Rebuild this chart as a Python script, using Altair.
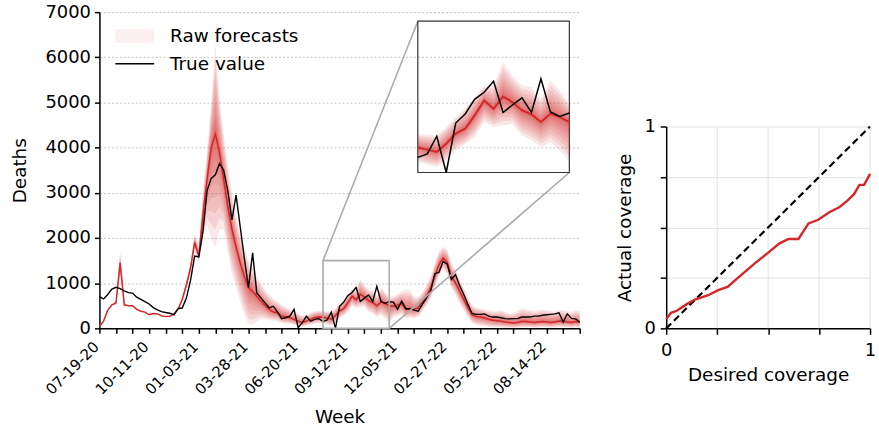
import json

import altair as alt
import pandas as pd

FONT = "DejaVu Sans"
RED = "#d62728"
GRID_GREY = "#b5b5b5"
BOX_GREY = "#ababab"
CAL_GRID = "#e3e3e3"

# ---------------------------------------------------------------- data
week_labels = ["07-19-20", "10-11-20", "01-03-21", "03-28-21", "06-20-21",
               "09-12-21", "12-05-21", "02-27-22", "05-22-22", "08-14-22"]
LABEL_EVERY = 12   # weeks between labelled ticks
TICK_EVERY = 4     # weeks between ticks

true_deaths = [
    700, 650, 750, 870, 910, 880, 830, 790, 780, 690,
    640, 590, 540, 460, 410, 370, 350, 335, 300, 440,
    450, 670, 1060, 1600, 1580, 2140, 3050, 3320, 3400, 3650,
    3500, 3050, 2400, 2950, 2250, 1550, 900, 1670, 785, 675,
    565, 455, 490, 360, 215, 235, 270, 420, 15, 125,
    270, 160, 200, 215, 150, 185, 360, 0, 490, 580,
    725, 795, 905, 595, 670, 740, 595, 930, 600, 555,
    590, 580, 420, 600, 435, 435, 405, 380, 530, 675,
    820, 1210, 1240, 1480, 1420, 1080, 1190, 945, 750, 530,
    330, 310, 310, 320, 270, 250, 250, 235, 215, 210,
    215, 215, 250, 250, 250, 270, 270, 290, 300, 310,
    320, 345, 140, 320, 220, 210, 140,
]
forecast_median = [
    40, 160, 400, 520, 560, 1450, 520, 500, 500, 420,
    380, 360, 300, 330, 320, 280, 260, 270, 320, 420,
    640, 960, 1330, 1900, 1600, 2500, 3300, 4000, 4300, 3900,
    3300, 2700, 2200, 1800, 1450, 1150, 900, 820, 710, 600,
    506, 418, 360, 345, 271, 257, 235, 198, 161, 125,
    161, 198, 235, 250, 247, 227, 204, 286, 385, 434,
    566, 714, 632, 753, 697, 615, 576, 500, 582, 549,
    500, 490, 506, 550, 418, 433, 420, 455, 580, 712,
    895, 1152, 1409, 1555, 1460, 1152, 1005, 821, 638, 455,
    300, 260, 250, 230, 200, 180, 170, 160, 140, 130,
    120, 130, 150, 150, 140, 130, 140, 150, 140, 130,
    140, 160, 150, 140, 130, 150, 130,
]
forecast_low = [
    40, 160, 400, 520, 520, 1250, 480, 500, 500, 420,
    380, 360, 300, 330, 320, 280, 260, 270, 320, 400,
    600, 900, 1250, 1750, 1450, 2000, 2300, 2000, 1800, 2200,
    2200, 1700, 1200, 900, 600, 300, 100, 80, 150, 200,
    200, 180, 170, 160, 120, 110, 100, 80, 60, 40,
    60, 80, 100, 110, 105, 80, 55, 120, 219, 280,
    351, 500, 450, 467, 483, 368, 319, 253, 300, 220,
    105, 250, 280, 300, 230, 240, 230, 250, 380, 500,
    650, 900, 1150, 1300, 1200, 900, 750, 550, 400, 250,
    120, 80, 60, 50, 30, 20, 20, 20, 10, 10,
    10, 10, 20, 20, 20, 10, 20, 20, 20, 10,
    20, 30, 20, 20, 10, 20, 10,
]
forecast_high = [
    40, 160, 400, 520, 620, 1700, 580, 500, 500, 420,
    380, 360, 300, 330, 320, 280, 260, 270, 320, 450,
    700, 1050, 1450, 2100, 1800, 3000, 3900, 5000, 6300, 5100,
    4300, 3600, 3000, 2500, 2100, 1800, 1500, 1350, 1150, 1000,
    850, 750, 650, 600, 520, 470, 420, 380, 330, 280,
    300, 340, 380, 390, 385, 375, 368, 450, 549, 640,
    747, 862, 862, 1092, 960, 862, 845, 730, 911, 813,
    681, 720, 760, 820, 850, 850, 700, 700, 800, 950,
    1150, 1450, 1700, 1800, 1750, 1450, 1300, 1100, 900, 700,
    520, 460, 440, 420, 400, 380, 380, 400, 360, 330,
    340, 380, 440, 420, 400, 380, 400, 420, 400, 380,
    380, 400, 400, 380, 360, 400, 380,
]

desired_coverage = [0.0, 0.024, 0.052, 0.101, 0.141, 0.206, 0.255, 0.301,
                    0.353, 0.442, 0.499, 0.556, 0.600, 0.649, 0.698, 0.746,
                    0.800, 0.849, 0.889, 0.922, 0.948, 0.971, 1.0]
actual_coverage = [0.046, 0.077, 0.087, 0.120, 0.143, 0.164, 0.189, 0.205,
                   0.251, 0.328, 0.374, 0.421, 0.443, 0.443, 0.520, 0.538,
                   0.575, 0.600, 0.633, 0.666, 0.711, 0.711, 0.765]
coverage_ticks = [0, 0.25, 0.5, 0.75, 1]

legend_labels = ["Raw forecasts", "True value"]

# ---------------------------------------------------------------- layout
W, H = 483, 318          # main panel plot area
CAL_W, CAL_H = 205, 203  # calibration panel plot area
Y_MAX = 7000
LAST_WEEK = len(true_deaths) - 1

ZOOM_WEEKS = (54, 70)        # region magnified in the inset
ZOOM_DEATHS = (0, 1500)
INSET_WEEKS = (76.9, 113.5)  # where the inset sits, in main-axis units
INSET_DEATHS = (3450, 6800)

# ---------------------------------------------------------------- tables
series = pd.DataFrame({
    "week": list(range(len(true_deaths))),
    "truth": true_deaths,
    "median": forecast_median,
    "low": forecast_low,
    "high": forecast_high,
})

# nested quantile bands between the median and the outer envelope
levels = [1.0, 0.85, 0.7, 0.56, 0.43, 0.32, 0.22, 0.14, 0.07]
band_frames = []
for i, f in enumerate(levels):
    b = series[["week"]].copy()
    b["band"] = i
    b["lo"] = series["median"] - f * (series["median"] - series["low"])
    b["hi"] = series["median"] + f * (series["high"] - series["median"])
    band_frames.append(b)
bands = pd.concat(band_frames, ignore_index=True)


def in_zoom(df):
    return df[(df["week"] >= ZOOM_WEEKS[0]) & (df["week"] <= ZOOM_WEEKS[1])]


bands_zoom = in_zoom(bands)
series_zoom = in_zoom(series)

zoom_box = pd.DataFrame({"x0": [ZOOM_WEEKS[0]], "x1": [ZOOM_WEEKS[1]],
                         "y0": [ZOOM_DEATHS[0]], "y1": [ZOOM_DEATHS[1]]})
inset_box = pd.DataFrame({"x0": [INSET_WEEKS[0]], "x1": [INSET_WEEKS[1]],
                          "y0": [INSET_DEATHS[0]], "y1": [INSET_DEATHS[1]]})
connectors = pd.DataFrame({
    "x0": [ZOOM_WEEKS[0], ZOOM_WEEKS[1]],
    "y0": [ZOOM_DEATHS[1], ZOOM_DEATHS[0]],
    "x1": [INSET_WEEKS[0], INSET_WEEKS[1]],
    "y1": [INSET_DEATHS[1], INSET_DEATHS[0]],
})

# ---------------------------------------------------------------- scales & axes
main_x = alt.Scale(domain=[0, LAST_WEEK], nice=False, zero=False)
main_y = alt.Scale(domain=[0, Y_MAX], nice=False)

label_expr = (f"datum.value % {LABEL_EVERY} == 0 ? "
              f"{json.dumps(week_labels)}[datum.value / {LABEL_EVERY}] : ''")

week_axis = alt.Axis(
    values=list(range(0, LAST_WEEK + 1, TICK_EVERY)),
    labelExpr=label_expr, labelAngle=315, labelAlign="right",
    labelBaseline="alphabetic", labelPadding=14, labelFontSize=15,
    labelOverlap=False, labelFlush=False, labelBound=False,
    title="Week", titleFontSize=18.5, titlePadding=10,
    grid=False, tickSize=5, tickWidth=1.5, domainWidth=1.5,
)
death_axis = alt.Axis(
    values=list(range(0, Y_MAX + 1, 1000)), format="d",
    labelFontSize=18, labelPadding=4,
    title="Deaths", titleFontSize=18.5, titlePadding=16,
    grid=True, gridDash=[2, 2], gridColor=GRID_GREY, gridWidth=0.8,
    tickSize=5, tickWidth=1.5, domainWidth=1.5,
)


def mx(field):
    return alt.X(field, type="quantitative", scale=main_x, axis=week_axis)


def my(field):
    return alt.Y(field, type="quantitative", scale=main_y, axis=death_axis)


inset_x = alt.Scale(domain=list(ZOOM_WEEKS), nice=False, zero=False,
                    range=[W * INSET_WEEKS[0] / LAST_WEEK, W * INSET_WEEKS[1] / LAST_WEEK])
inset_y = alt.Scale(domain=list(ZOOM_DEATHS), nice=False,
                    range=[H * (1 - INSET_DEATHS[0] / Y_MAX), H * (1 - INSET_DEATHS[1] / Y_MAX)])


def ix(field):
    return alt.X(field, type="quantitative", scale=inset_x, axis=None)


def iy(field):
    return alt.Y(field, type="quantitative", scale=inset_y, axis=None)


# ---------------------------------------------------------------- main panel
fan = alt.Chart(bands).mark_area(color=RED, opacity=0.11).encode(
    x=mx("week"), y=my("lo"), y2="hi", detail="band:N")
median_line = alt.Chart(series).mark_line(color=RED, strokeWidth=1.5).encode(
    x=mx("week"), y=my("median"))
truth_line = alt.Chart(series).mark_line(color="black", strokeWidth=1.4).encode(
    x=mx("week"), y=my("truth"))

zoom_rect = alt.Chart(zoom_box).mark_rect(
    fillOpacity=0, stroke=BOX_GREY, strokeWidth=1.6).encode(
    x=mx("x0"), x2="x1", y=my("y0"), y2="y1")
connector_rules = alt.Chart(connectors).mark_rule(
    color=BOX_GREY, strokeWidth=1.6).encode(
    x=mx("x0"), y=my("y0"), x2="x1", y2="y1")
inset_frame = alt.Chart(inset_box).mark_rect(
    fillOpacity=0, stroke="#333333", strokeWidth=1.2).encode(
    x=mx("x0"), x2="x1", y=my("y0"), y2="y1")

# hand-placed legend in the upper-left corner of the panel
legend_df = pd.DataFrame({"label": legend_labels})
legend_patch = alt.Chart(legend_df.iloc[[0]]).mark_rect(
    color=RED, opacity=0.07).encode(
    x=alt.value(16), x2=alt.value(55), y=alt.value(17), y2=alt.value(31))
legend_rule = alt.Chart(legend_df.iloc[[1]]).mark_rule(
    color="black", strokeWidth=1.5).encode(
    x=alt.value(16), x2=alt.value(55), y=alt.value(52))
legend_texts = [
    alt.Chart(legend_df.iloc[[i]]).mark_text(
        align="left", baseline="middle", fontSize=18.5, font=FONT,
        color="black").encode(x=alt.value(71), y=alt.value(yy), text="label:N")
    for i, yy in enumerate([24, 52])
]

main_layers = alt.layer(fan, median_line, truth_line, zoom_rect,
                        connector_rules, inset_frame, legend_patch, legend_rule,
                        *legend_texts)

# ---------------------------------------------------------------- inset
fan_i = alt.Chart(bands_zoom).mark_area(color=RED, opacity=0.11).encode(
    x=ix("week"), y=iy("lo"), y2="hi", detail="band:N")
median_i = alt.Chart(series_zoom).mark_line(color=RED, strokeWidth=2).encode(
    x=ix("week"), y=iy("median"))
truth_i = alt.Chart(series_zoom).mark_line(color="black", strokeWidth=1.5).encode(
    x=ix("week"), y=iy("truth"))
inset_layers = alt.layer(fan_i, median_i, truth_i)

panel = alt.layer(main_layers, inset_layers).resolve_scale(
    x="independent", y="independent").properties(width=W, height=H)

# ---------------------------------------------------------------- calibration
cal = pd.DataFrame({"desired": desired_coverage, "actual": actual_coverage})
ideal = pd.DataFrame({"desired": [0, 1], "actual": [0, 1]})
vgrid = pd.DataFrame({"v": coverage_ticks[1:], "lo": 0, "hi": 1})

cal_x = alt.Scale(domain=[0, 1], nice=False)
cal_y = alt.Scale(domain=[0, 1], nice=False, range=[H, H - CAL_H])
end_labels = "datum.value == 0 ? '0' : datum.value == 1 ? '1' : ''"
cal_common = dict(values=coverage_ticks, labelExpr=end_labels,
                  labelFontSize=18, tickSize=6, tickWidth=1.5,
                  domainWidth=1.5, titleFontSize=18.5)
cal_x_axis = alt.Axis(title="Desired coverage", labelFlush=False, grid=False,
                      labelPadding=7, titlePadding=6, **cal_common)
cal_y_axis = alt.Axis(title="Actual coverage", labelPadding=5, grid=True,
                      gridColor=CAL_GRID, gridWidth=1, titlePadding=9,
                      **cal_common)


def cx(field):
    return alt.X(field, type="quantitative", scale=cal_x, axis=cal_x_axis)


def cy(field):
    return alt.Y(field, type="quantitative", scale=cal_y, axis=cal_y_axis)


cal_vgrid = alt.Chart(vgrid).mark_rule(color=CAL_GRID, strokeWidth=1).encode(
    x=cx("v"), y=cy("lo"), y2="hi")
ideal_line = alt.Chart(ideal).mark_line(
    color="black", strokeWidth=2.2, strokeDash=[7, 4]).encode(
    x=cx("desired"), y=cy("actual"))
cal_line = alt.Chart(cal).mark_line(color=RED, strokeWidth=2.4).encode(
    x=cx("desired"), y=cy("actual"))
calibration = alt.layer(cal_vgrid, ideal_line, cal_line).properties(
    width=CAL_W, height=H)

# ---------------------------------------------------------------- figure
chart = alt.hconcat(panel, calibration, spacing=87, bounds="flush").properties(
    padding={"left": 9, "top": 1, "right": 2, "bottom": 2}
).configure(font=FONT).configure_view(stroke="transparent").configure_axis(
    domainColor="black", tickColor="black", labelColor="black",
    titleColor="black", labelFont=FONT, titleFont=FONT,
    titleFontWeight="normal",
)

chart.save("out.html", embed_options={"renderer": "svg", "actions": False})
